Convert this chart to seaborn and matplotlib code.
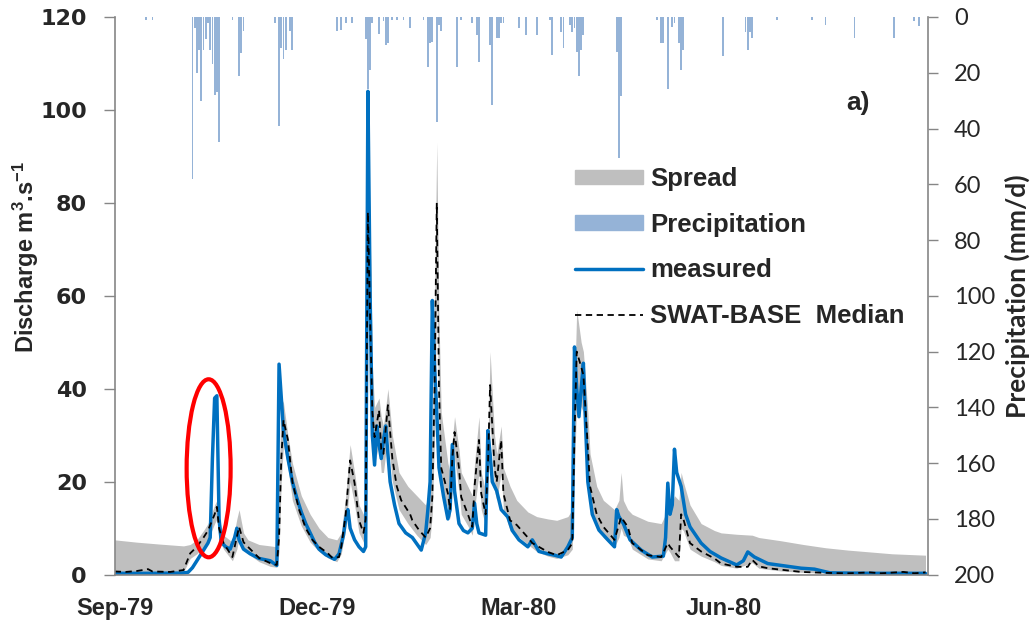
import matplotlib
matplotlib.use('Agg')
import matplotlib.pyplot as plt
from matplotlib.patches import Patch, Ellipse
from matplotlib.lines import Line2D
import seaborn as sns

# days counted from 1 Sep 1979
tick_days = [0, 91, 182, 274, 366]
tick_labels = ['Sep-79', 'Dec-79', 'Mar-80', 'Jun-80', '']

measured_day = [0, 15, 30, 33, 35, 37, 40, 42, 43, 44, 45, 46, 47, 48, 50, 52, 54, 55, 56, 58, 61, 65, 70, 73,
                74, 75, 76, 78, 80, 82, 84, 86, 88, 90, 92, 95, 99, 101, 103, 104, 105, 106, 108, 110, 112, 113,
                114, 115, 116, 117, 118, 119, 120, 121, 122, 123, 124, 126, 128, 131, 134, 137, 138, 140, 141,
                142, 143, 144, 145, 146, 148, 150, 151, 152, 153, 155, 157, 159, 161, 162, 163, 164, 167, 168,
                169, 170, 172, 174, 177, 179, 182, 186, 188, 191, 195, 198, 201, 204, 206, 207, 208, 209, 210,
                211, 212, 213, 215, 218, 222, 225, 226, 227, 229, 232, 237, 242, 247, 248, 249, 250, 251, 252,
                253, 255, 257, 259, 264, 268, 273, 280, 283, 285, 288, 294, 300, 309, 315, 322, 340, 365]
measured_q = [0.3, 0.3, 0.35, 0.5, 1.5, 3.0, 5.3, 6.8, 8, 25, 38, 38.5, 12, 7, 6, 5.5, 8, 10, 7.5, 5.5, 4.5, 3.5,
              3, 2, 45.3, 38, 31, 25, 20, 16.5, 13.5, 11, 9, 7, 5.5, 4.3, 3.3, 4.5, 8.5, 12, 14, 10, 7.5, 6, 5,
              6, 104, 60, 30, 23.6, 32, 28, 25, 29, 32, 26, 20, 15, 11, 9, 8, 6, 5.3, 9, 14, 20, 59, 45, 35, 23,
              17, 12, 14, 28, 18, 11, 9.5, 9, 10, 15.4, 11, 9, 8.5, 31, 26, 20, 18, 14, 12.4, 9.5, 7.5, 6, 7.5,
              5, 4.5, 4.2, 3.8, 6, 8, 49, 40, 34, 40, 45.5, 32, 20, 13, 9.6, 7.5, 6, 14, 12.5, 11, 7.5, 5.3,
              3.8, 4, 8, 19.7, 13, 15, 27, 22, 19, 13, 10.3, 6.8, 5, 3.6, 2.1, 3, 4.9, 3.8, 2.4, 2, 1.4, 1.2,
              0.4, 0.3, 0.3]

median_day = [0, 5, 10, 15, 17, 25, 31, 34, 37, 40, 42, 45, 46, 47, 49, 53, 56, 58, 60, 65, 70, 73, 74, 75, 76,
              78, 80, 83, 86, 89, 92, 96, 98, 101, 102, 104, 106, 108, 110, 112, 113, 114, 115, 116, 117, 119,
              120, 121, 123, 125, 127, 129, 133, 134, 137, 140, 142, 143, 144, 145, 146, 147, 150, 151, 152,
              153, 155, 156, 159, 161, 162, 164, 165, 167, 168, 169, 171, 172, 174, 175, 178, 181, 186, 188,
              195, 199, 204, 206, 207, 208, 210, 211, 213, 214, 217, 220, 225, 228, 231, 233, 240, 246, 249,
              250, 254, 255, 256, 259, 264, 270, 273, 280, 285, 287, 290, 294, 309, 320, 330, 340, 345, 355,
              360, 365]
median_q = [0.7, 0.6, 0.8, 1.2, 0.7, 0.6, 1.0, 4.6, 6, 8, 9.5, 13, 14.6, 10, 6.8, 3.8, 10.3, 7, 6, 3.6, 2.5,
            2.1, 8, 25, 33.3, 29, 20, 14, 10, 7.5, 6, 4.6, 3.6, 3.8, 6, 13, 24.6, 19.7, 11.7, 9, 12, 78, 55, 35,
            29.6, 35.4, 27, 26, 36.5, 25, 19, 16, 13, 11.7, 9.6, 8, 10, 16.7, 40, 80, 40, 23, 17.5, 14, 25,
            30.7, 23, 16.7, 13, 10.3, 19, 29, 17.5, 13, 23, 40.8, 23, 20, 29, 17.5, 11.7, 10.7, 8, 6.8, 4.9,
            4.2, 5.3, 6.8, 30, 48, 44.7, 43, 27.5, 19, 13, 10.3, 7.5, 12.4, 10.3, 6.8, 4.2, 3.8, 6.8, 6, 3.8,
            13, 12, 6.8, 5, 3.5, 2.4, 1.7, 1.7, 3.2, 1.8, 1.4, 0.6, 0.4, 0.3, 0.5, 0.3, 0.6, 0.3, 0.5]

spread_day = [0, 10, 20, 31, 34, 37, 40, 42, 45, 46, 47, 49, 53, 55, 56, 58, 60, 65, 70, 73, 74, 75, 76, 78, 80,
              84, 88, 92, 96, 100, 102, 104, 106, 108, 110, 112, 113, 114, 115, 116, 117, 119, 120, 121, 123,
              125, 128, 132, 136, 140, 142, 143, 144, 145, 146, 147, 150, 151, 152, 153, 155, 156, 159, 161,
              162, 164, 165, 167, 168, 169, 171, 172, 174, 175, 178, 181, 186, 190, 195, 199, 204, 206, 207,
              208, 210, 211, 213, 214, 217, 220, 225, 227, 228, 229, 231, 233, 240, 246, 249, 250, 252, 254,
              255, 256, 259, 264, 270, 273, 280, 287, 290, 300, 310, 320, 330, 340, 350, 365]
spread_high = [7.5, 7.0, 6.6, 6.2, 6.5, 7.5, 9.5, 11, 15, 16, 12, 8.5, 7, 12, 14, 9, 7.5, 6.5, 6.2, 6, 20, 38,
               37, 30, 24, 17, 13, 10, 8, 7.5, 9, 17, 28, 22, 15, 13, 15, 95, 75, 45, 36, 38, 34, 32, 40, 30,
               22, 19, 17, 15, 18, 30, 60, 93, 55, 35, 24, 22, 29, 34, 27, 22, 19, 17, 24, 34, 22, 18, 28, 48,
               30, 26, 32, 23, 19, 16, 13.5, 12.5, 12, 11.7, 12.5, 14, 40, 57, 50, 48, 35, 26, 19, 16, 14, 16,
               22, 16, 14, 13, 11.5, 11, 14, 14, 17, 16, 22, 20, 15, 11, 9.5, 9, 8.7, 8.5, 8, 7.3, 6.5, 5.8,
               5.3, 4.9, 4.5, 4.2]
spread_low = [0.2, 0.2, 0.2, 0.6, 3.5, 4.5, 6, 7.5, 11, 12, 7.5, 5.5, 3, 5.5, 8, 5.5, 4.5, 2.8, 1.8, 1.6, 5, 20,
              28, 23, 16, 10.5, 7, 5, 3.6, 2.8, 4.5, 10, 20, 15, 9, 7, 9, 60, 42, 28, 24, 28, 22, 22, 30, 20,
              14, 11, 8.5, 6.5, 8, 13, 30, 60, 32, 19, 14, 12, 20, 25, 18, 13, 10.5, 8.5, 14, 22, 14, 10.5, 18,
              33, 18, 16, 22, 14, 9.5, 8.5, 6.5, 5, 4, 3.5, 4.3, 5.5, 22, 38, 36, 35, 22, 15, 10.5, 8, 6, 8, 10,
              8.5, 8, 5.5, 3.4, 3, 5.5, 4.8, 3, 3, 10, 9.5, 5.5, 4, 2.8, 2, 1.4, 2.6, 1.4, 0.8, 0.5, 0.3, 0.2,
              0.2, 0.2, 0.2]

precip_day = [14, 17, 35, 36, 37, 38, 39, 40, 41, 42, 43, 44, 45, 46, 47, 53, 56, 57, 58, 72, 74, 75, 76, 77,
              79, 80, 100, 102, 104, 107, 113, 114, 115, 116, 119, 121, 122, 123, 125, 127, 130, 133, 139, 141,
              142, 143, 145, 146, 147, 154, 156, 161, 163, 164, 169, 170, 172, 173, 174, 175, 182, 185, 190,
              196, 197, 201, 202, 205, 206, 207, 208, 209, 210, 211, 226, 227, 228, 244, 246, 247, 249, 251,
              252, 254, 255, 256, 274, 284, 285, 286, 287, 298, 314, 320, 333, 351, 360, 362]
precip_mm = [1, 1, 58, 4, 20, 12, 30, 12, 8, 2, 12, 17, 28, 27, 45, 1, 21, 13, 5, 2, 39, 11, 15, 12, 5, 12, 5,
             4.5, 2, 2, 8, 26, 19, 2, 6, 1.5, 10, 9.5, 1, 1, 1, 4, 1, 18, 9.5, 9, 37.5, 3, 5, 18, 1, 2, 6.5, 16,
             10, 31.5, 7.6, 7.6, 2, 2, 4, 6.5, 6.5, 1, 13.6, 5.5, 11, 3, 5.5, 4, 12.4, 21, 12, 6.5, 12.4, 50.6,
             28.5, 1, 9.5, 9.5, 26, 3.5, 2, 9.5, 19, 12, 14, 5.5, 12, 5.5, 7.6, 1, 1, 3, 7.6, 7.6, 1.3, 3.3]

sns.set_theme(style='white')
plt.rcParams['font.family'] = ['Liberation Sans', 'DejaVu Sans']
plt.rcParams['font.weight'] = 'bold'
plt.rcParams['mathtext.fontset'] = 'custom'
plt.rcParams['mathtext.rm'] = 'Liberation Sans:bold'
plt.rcParams['mathtext.it'] = 'Liberation Sans:bold'
plt.rcParams['mathtext.bf'] = 'Liberation Sans:bold'
plt.rcParams['mathtext.default'] = 'rm'

axis_grey = '#868686'
blue = '#0070C0'
rain_blue = '#95B3D7'
spread_grey = '#BFBFBF'

fig = plt.figure(figsize=(10.34, 6.27), dpi=100)
ax = fig.add_axes([0.1109, 0.0834, 0.7863, 0.8895])
ax2 = ax.twinx()

# precipitation hanging from the top on the right axis
ax2.bar(precip_day, precip_mm, width=0.8, color=rain_blue, linewidth=0)
ax2.set_ylim(200, 0)
ax2.set_yticks(range(0, 201, 20))
ax2.tick_params(axis='y', direction='out', length=7, width=1, color=axis_grey, pad=12, labelsize=17)
for lab in ax2.get_yticklabels():
    lab.set_fontfamily('Lato')
    lab.set_fontweight('normal')
ax2.set_ylabel('Precipitation (mm/d)', fontsize=19, fontfamily='Lato', fontweight='bold')
ax2.yaxis.set_label_coords(1.095, 0.5)

ax.set_zorder(ax2.get_zorder() + 1)
ax.patch.set_visible(False)

ax.fill_between(spread_day, spread_low, spread_high, color=spread_grey, linewidth=0)
sns.lineplot(x=measured_day, y=measured_q, ax=ax, color=blue, linewidth=2.5)
sns.lineplot(x=median_day, y=median_q, ax=ax, color='black', linewidth=1.3, linestyle=(0, (3.5, 2.5)))

ax.add_patch(Ellipse((42.3, 22.9), width=19.8, height=38.3, fill=False, edgecolor='#FF0000', linewidth=3,
                     zorder=5))
ax.text(334.8, 101.4, 'a)', fontsize=19, fontweight='bold', ha='center', va='center')

ax.set_xlim(0, 366)
ax.set_ylim(0, 120)
ax.set_xticks(tick_days)
ax.set_xticklabels(tick_labels)
ax.set_yticks(range(0, 121, 20))
ax.tick_params(axis='x', direction='out', length=9, width=1, color=axis_grey, pad=7, labelsize=17)
ax.tick_params(axis='y', direction='out', length=8, width=1, color=axis_grey, pad=12, labelsize=16)
for lab in ax.get_yticklabels():
    lab.set_fontfamily('DejaVu Sans')
    lab.set_fontweight('bold')
ax.set_ylabel(r'Discharge m$^{3}$.s$^{-1}$', fontsize=17, fontweight='bold')
ax.yaxis.set_label_coords(-0.09, 0.57)
ax.set_xlabel('')

for a in (ax, ax2):
    a.spines['top'].set_visible(False)
    for s in ('left', 'right', 'bottom'):
        a.spines[s].set_color(axis_grey)
        a.spines[s].set_linewidth(1.2)
ax.spines['right'].set_visible(False)
ax2.spines['left'].set_visible(False)
ax2.spines['bottom'].set_visible(False)

handles = [Patch(color=spread_grey), Patch(color=rain_blue),
           Line2D([], [], color=blue, linewidth=2.5),
           Line2D([], [], color='black', linewidth=1.3, linestyle=(0, (3.5, 2.5)))]
labels = ['Spread', 'Precipitation', 'measured', 'SWAT-BASE  Median']
ax.legend(handles, labels, loc='upper left', bbox_to_anchor=(575 / 1034, 1 - 167 / 627),
          bbox_transform=fig.transFigure, frameon=False, borderaxespad=0, borderpad=0,
          handlelength=2.65, handleheight=0.5, handletextpad=0.27, labelspacing=0.84,
          prop={'weight': 'bold', 'size': 18.5})

fig.savefig('out.png', dpi=100)
